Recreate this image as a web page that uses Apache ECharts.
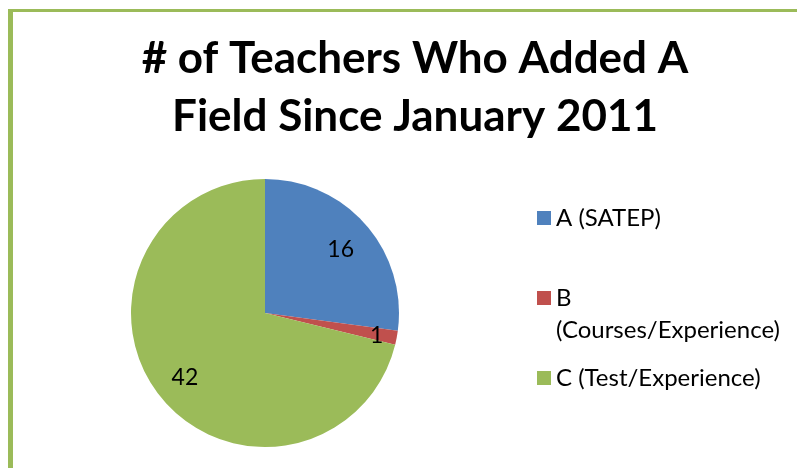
<!DOCTYPE html>
<html>
<head>
<meta charset="utf-8">
<script src="https://cdn.jsdelivr.net/npm/echarts@6/dist/echarts.min.js"></script>
<style>
  html, body { margin: 0; padding: 0; background: #fff; }
  #chart { width: 797px; height: 468px; }
</style>
</head>
<body>
<div id="chart"></div>
<script>
const categories = ['A (SATEP)', 'B (Courses/Experience)', 'C (Test/Experience)']
const values = [16, 1, 42]
const colors = ['#4F81BD', '#C0504D', '#9BBB59']
// nudges so the value labels sit where Excel put them
const labelOffsets = [[23, -17], [43, 10], [-25, 21]]

const chart = echarts.init(document.getElementById('chart'))

chart.setOption({
  animation: false,
  title: {
    text: '# of Teachers Who Added A\nField Since January 2011',
    left: 410,
    top: 25,
    textAlign: 'center',
    textStyle: {
      fontFamily: 'Lato',
      fontWeight: 'bold',
      fontSize: 44,
      lineHeight: 58,
      color: '#000',
    },
  },
  legend: {
    orient: 'vertical',
    left: 532,
    top: 197,
    itemWidth: 14,
    itemHeight: 14,
    itemGap: 16,
    icon: 'rect',
    data: categories,
    // B wraps in the original; the empty first line keeps "B" level with its swatch
    formatter: (name) => name.startsWith('B (') ? name.replace('B (', '\nB\n(') : name,
    textStyle: {
      fontFamily: 'Lato',
      fontSize: 24,
      lineHeight: 32,
      color: '#000',
    },
  },
  series: [{
    type: 'pie',
    center: [265, 313],
    radius: 134,
    startAngle: 90,
    clockwise: true,
    silent: true,
    data: categories.map((name, i) => ({
      name,
      value: values[i],
      itemStyle: { color: colors[i] },
      label: { offset: labelOffsets[i] },
    })),
    label: {
      show: true,
      position: 'inside',
      formatter: '{c}',
      fontFamily: 'Lato',
      fontSize: 23,
      color: '#000',
    },
    labelLine: { show: false },
  }],
  graphic: [
    { type: 'rect', shape: { x: 8, y: 9, width: 5, height: 459 }, style: { fill: '#9BBB59' } },
    { type: 'rect', shape: { x: 8, y: 9, width: 789, height: 3 }, style: { fill: '#9BBB59' } },
  ],
})
</script>
</body>
</html>
